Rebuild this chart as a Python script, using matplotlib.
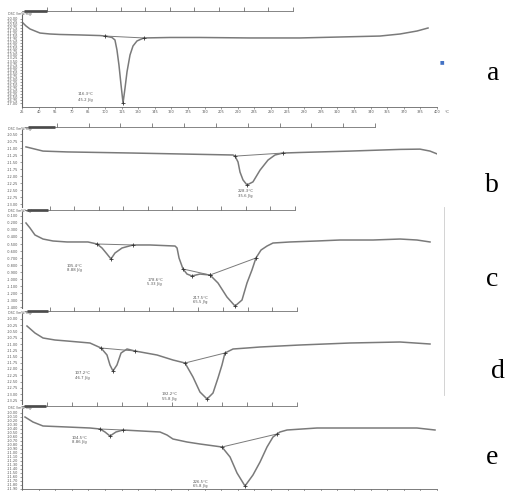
import numpy as np
import matplotlib.pyplot as plt

# DSC thermograms, panels a-e (temperature in C, heat flow in mW)
temp_a = [25.0, 28.6, 32.2, 36.7, 41.3, 50.3, 59.3, 77.4, 95.5, 100.0, 106.3, 109.0, 110.8, 112.6,
          114.5, 116.3, 118.1, 119.9, 122.6, 125.3, 128.9, 135.1, 158.7, 185.8, 231.0, 276.2,
          312.3, 348.5, 366.6, 382.0, 391.9]
flow_a = [-10.25, -10.58, -10.83, -11.0, -11.17, -11.25, -11.29, -11.33, -11.38, -11.42, -11.54,
          -11.75, -12.58, -13.83, -15.5, -17.0, -15.75, -14.4, -13.0, -12.25, -11.83, -11.58,
          -11.54, -11.54, -11.58, -11.58, -11.5, -11.42, -11.25, -11.0, -10.75]

temp_b = [28.6, 44.0, 65.7, 125.3, 215.7, 217.5, 220.2, 222.0, 224.7, 228.3, 233.7, 240.1, 247.3,
          253.6, 260.8, 276.2, 321.4, 366.6, 384.6, 393.7, 400.0]
flow_b = [-10.96, -11.11, -11.14, -11.18, -11.25, -11.29, -11.5, -11.86, -12.14, -12.32, -12.21,
          -11.79, -11.43, -11.25, -11.18, -11.16, -11.11, -11.05, -11.04, -11.11, -11.21]

temp_c = [28.6, 32.2, 36.7, 44.0, 53.0, 65.7, 84.6, 92.8, 97.3, 101.8, 105.4, 109.0, 115.4, 125.3,
          140.7, 163.3, 165.1, 166.9, 170.5, 174.1, 178.6, 185.8, 194.9, 202.1, 210.2, 217.5,
          223.8, 228.3, 232.8, 236.4, 241.0, 246.4, 251.8, 267.2, 291.6, 312.3, 342.2, 366.6,
          381.9, 393.7]
flow_c = [-0.200, -0.271, -0.371, -0.429, -0.457, -0.471, -0.471, -0.500, -0.557, -0.643, -0.714,
          -0.629, -0.557, -0.514, -0.514, -0.529, -0.557, -0.700, -0.857, -0.929, -0.957, -0.929,
          -0.943, -1.057, -1.257, -1.386, -1.300, -1.057, -0.871, -0.700, -0.586, -0.529, -0.486,
          -0.471, -0.457, -0.443, -0.443, -0.429, -0.443, -0.471]

temp_d = [29.5, 36.7, 44.0, 54.8, 65.7, 86.4, 96.4, 101.8, 104.5, 107.2, 110.8, 114.5, 119.9, 127.1,
          147.0, 161.4, 172.3, 179.5, 185.8, 192.2, 197.6, 202.1, 205.7, 208.4, 215.7, 228.3,
          240.1, 276.2, 321.4, 366.6, 393.7]
flow_d = [-10.28, -10.56, -10.76, -10.84, -10.88, -10.96, -11.16, -11.44, -11.84, -12.08, -11.84,
          -11.36, -11.20, -11.28, -11.44, -11.64, -11.76, -12.32, -12.92, -13.20, -12.96, -12.36,
          -11.84, -11.36, -11.20, -11.16, -11.12, -11.04, -10.96, -10.92, -11.0]

temp_e = [27.7, 34.9, 44.0, 65.7, 86.4, 95.5, 100.0, 104.5, 109.9, 116.3, 149.7, 156.0, 161.4,
          174.1, 185.8, 205.7, 213.0, 219.3, 226.5, 233.7, 240.1, 246.4, 251.8, 258.1, 264.5,
          291.6, 336.7, 381.9, 398.2]
flow_e = [-10.10, -10.225, -10.325, -10.35, -10.375, -10.40, -10.475, -10.575, -10.475, -10.425,
          -10.475, -10.55, -10.65, -10.725, -10.775, -10.85, -11.10, -11.50, -11.825, -11.55,
          -11.225, -10.85, -10.60, -10.475, -10.425, -10.375, -10.375, -10.375, -10.425]

# integration baselines (start/end of each peak) and peak minima
base_a = [[(100.0, -11.42), (135.1, -11.58)]]
base_b = [[(217.5, -11.29), (260.8, -11.18)]]
base_c = [[(92.8, -0.500), (125.3, -0.514)], [(170.5, -0.857), (194.9, -0.943)],
          [(194.9, -0.943), (236.4, -0.700)]]
base_d = [[(96.4, -11.16), (127.1, -11.28)], [(172.3, -11.76), (208.4, -11.36)]]
base_e = [[(95.5, -10.40), (116.3, -10.425)], [(205.7, -10.85), (255.4, -10.525)]]

peak_a = [(116.3, -17.0)]
peak_b = [(228.3, -12.32)]
peak_c = [(105.4, -0.714), (178.6, -0.957), (217.5, -1.386)]
peak_d = [(107.2, -12.08), (192.2, -13.20)]
peak_e = [(104.5, -10.575), (226.5, -11.825)]

notes_a = [("116.3°C", "45.2 J/g")]
notes_b = [("228.3°C", "35.6 J/g")]
notes_c = [("105.4°C", "8.88 J/g"), ("178.6°C", "5.33 J/g"), ("217.5°C", "65.5 J/g")]
notes_d = [("107.2°C", "46.7 J/g"), ("192.2°C", "55.8 J/g")]
notes_e = [("104.5°C", "8.86 J/g"), ("226.5°C", "65.8 J/g")]

x_ticks = np.arange(25, 401, 15)

W, H = 506, 491
fig = plt.figure(figsize=(W / 100, H / 100), dpi=100)
GREY = '#7a7a7a'


def rect(left, top, right, bottom):
    return [left / W, 1 - bottom / H, (right - left) / W, (bottom - top) / H]


def ruler(y, x0, x1, bar_end):
    r = fig.add_axes(rect(x0, y - 1, x1, y))
    r.set_xlim(0, 11)
    r.set_ylim(0, 1)
    for s in ['top', 'left', 'right']:
        r.spines[s].set_visible(False)
    r.spines['bottom'].set_linewidth(0.5)
    r.spines['bottom'].set_color('#555555')
    r.set_xticks(range(1, 12))
    r.set_xticklabels([])
    r.set_yticks([])
    r.tick_params(axis='x', direction='in', length=3, width=0.5, color='#555555')
    r.plot([0.1, 11 * (bar_end - x0) / (x1 - x0)], [0, 0], color='#333333', lw=1.8,
           clip_on=False, solid_capstyle='butt')
    r.patch.set_alpha(0)


def panel(top, bottom, temps, flows, ylim, yticks, bases, peaks, notes, note_pos,
          xaxis=False, xlabels=True, fmt='{:.2f}'):
    ax = fig.add_axes(rect(22, top, 437, bottom))
    ax.plot(temps, flows, color=GREY, lw=1.1)
    for seg in bases:
        (t0, f0), (t1, f1) = seg
        ax.plot([t0, t1], [f0, f1], color=GREY, lw=0.7)
        ax.plot([t0, t1], [f0, f1], '+', color='#333333', ms=2.5, mew=0.6)
    for t, f in peaks:
        ax.plot(t, f, '+', color='#333333', ms=2.5, mew=0.6)
    for (l1, l2), (tx, ty1, ty2) in zip(notes, note_pos):
        ax.text(tx, ty1, l1, fontsize=2.8, color='#555555', va='center')
        ax.text(tx, ty2, l2, fontsize=2.8, color='#555555', va='center')
    ax.set_xlim(25, 400)
    ax.set_ylim(*ylim)
    ax.set_yticks(yticks)
    ax.set_yticklabels([fmt.format(v) for v in yticks])
    for s in ['top', 'right']:
        ax.spines[s].set_visible(False)
    ax.spines['left'].set_linewidth(0.8)
    ax.spines['left'].set_color('#666666')
    ax.tick_params(axis='y', labelsize=2.5, length=1.5, width=0.4, pad=1, colors='#555555')
    if xaxis:
        ax.spines['bottom'].set_linewidth(0.6)
        ax.spines['bottom'].set_color('#666666')
        ax.set_xticks(x_ticks)
        ax.tick_params(axis='x', labelsize=2.5, length=1.5, width=0.4, pad=1, colors='#555555',
                       labelbottom=xlabels)
    else:
        ax.spines['bottom'].set_visible(False)
        ax.set_xticks([])
    ax.patch.set_alpha(0)
    fig.text(8 / W, 1 - (top - 1) / H, 'DSC /(mW/mg)', fontsize=2.3, color='#555555',
             va='center')
    return ax


ax_a = panel(15, 107, temp_a, flow_a, (-17.333, -9.667), np.arange(-10.0, -17.01, -0.25),
             base_a, peak_a, notes_a, [(75.6, -16.25, -16.75)], xaxis=True)
ax_a.text(1.018, -0.03, '°C', transform=ax_a.transAxes, fontsize=3, color='#555555',
          va='top')
ruler(11, 22, 293, 47)

panel(130, 207, temp_b, flow_b, (-13.107, -10.357), np.arange(-10.5, -13.01, -0.25),
      base_b, peak_b, notes_b, [(220.2, -12.54, -12.71)])
ruler(127, 25, 375, 55)

panel(212, 308, temp_c, flow_c, (-1.414, -0.043), np.arange(-0.1, -1.41, -0.1),
      base_c, peak_c, notes_c,
      [(65.7, -0.814, -0.871), (138.0, -1.014, -1.071), (179.5, -1.271, -1.329)],
      fmt='{:.3f}')
ruler(210, 25, 295, 48)

panel(314, 404, temp_d, flow_d, (-13.4, -9.8), np.arange(-10.0, -13.26, -0.25),
      base_d, peak_d, notes_d, [(72.9, -12.16, -12.36), (151.5, -13.0, -13.2)])
ruler(311, 25, 297, 48)

panel(409, 489, temp_e, flow_e, (-11.9, -9.9), np.arange(-10.0, -11.91, -0.1),
      base_e, peak_e, notes_e, [(70.2, -10.625, -10.725), (179.5, -11.725, -11.825)],
      xaxis=True, xlabels=False)
ruler(406, 22, 297, 46)

# separator line and stray marker as in the composite figure
fig.add_artist(plt.Line2D([444 / W, 444 / W], [1 - 207 / H, 1 - 395 / H], color='#cccccc',
                          lw=0.6))
fig.text(442 / W, 1 - 62 / H, '■', fontsize=3.5, color='#4472c4', ha='center', va='center')

for lab, (x, y) in zip('abcde', [(493, 73), (492, 185), (492, 280), (498, 372), (492, 458)]):
    fig.text(x / W, 1 - y / H, lab, fontsize=20, family='Liberation Serif', ha='center',
             va='center')

fig.savefig('out.png', dpi=100)
